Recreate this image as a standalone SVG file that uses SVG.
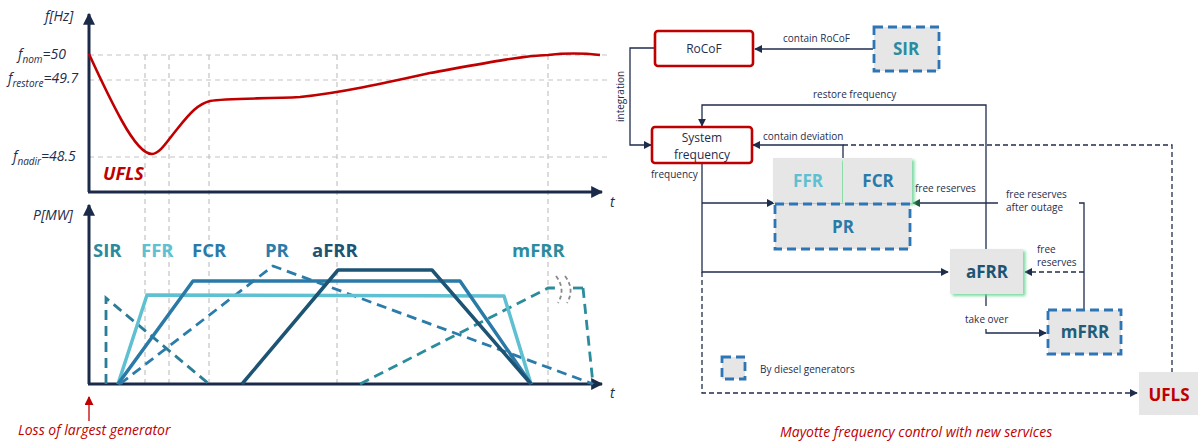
<svg xmlns="http://www.w3.org/2000/svg" width="1198" height="441" viewBox="0 0 1198 441">
  <style>
    text { font-family: "Open Sans", "Liberation Sans", sans-serif; }
    .axis { stroke: #1c2a4a; stroke-width: 3; fill: none; }
    .grid { stroke: #c4c4c4; stroke-width: 1.2; stroke-dasharray: 5 4; fill: none; }
    .ax-lbl { font-style: italic; font-size: 14px; fill: #1f2d4d; }
    .ser { font-weight: bold; font-size: 18.5px; }
    .s-solid { fill: none; stroke-width: 3.5; stroke-linejoin: round; }
    .s-dash { fill: none; stroke-width: 2.8; stroke-dasharray: 10 6; }
    .cap { font-style: italic; font-size: 14px; fill: #c00000; }
    .conn { stroke: #1f2d4d; stroke-width: 1.3; fill: none; }
    .conn-dash { stroke: #1f2d4d; stroke-width: 1.3; fill: none; stroke-dasharray: 5 3; }
    .lbl { font-size: 10px; fill: #1f2d4d; }
    .redbox { fill: #ffffff; stroke: #c00000; stroke-width: 2.6; }
    .greybox { fill: #e6e6e6; }
    .diesel { fill: #e6e6e6; stroke: #2e75b6; stroke-width: 2.8; stroke-dasharray: 9 5; }
    .node-txt { font-size: 12px; fill: #1f2d4d; text-anchor: middle; }
    .node-b { font-weight: bold; font-size: 17px; text-anchor: middle; }
  </style>
  <defs>
    <marker id="axhead" viewBox="0 0 10 10" refX="9" refY="5" markerWidth="12" markerHeight="12" markerUnits="userSpaceOnUse" orient="auto">
      <path d="M0,0 L10,5 L0,10 z" fill="#1c2a4a"/>
    </marker>
    <marker id="redhead" viewBox="0 0 10 10" refX="9" refY="5" markerWidth="9" markerHeight="9" markerUnits="userSpaceOnUse" orient="auto">
      <path d="M0,0 L10,5 L0,10 z" fill="#c00000"/>
    </marker>
    <marker id="ah" viewBox="0 0 10 10" refX="9" refY="5" markerWidth="8" markerHeight="8" markerUnits="userSpaceOnUse" orient="auto">
      <path d="M0,0 L10,5 L0,10 z" fill="#1f2d4d"/>
    </marker>
    <marker id="ahg" viewBox="0 0 10 10" refX="9" refY="5" markerWidth="8" markerHeight="8" markerUnits="userSpaceOnUse" orient="auto">
      <path d="M0,0 L10,5 L0,10 z" fill="#1d5a3c"/>
    </marker>
    <filter id="glow" x="-20%" y="-20%" width="150%" height="150%">
      <feDropShadow dx="2.5" dy="2" stdDeviation="1.6" flood-color="#6fd69a" flood-opacity="0.9"/>
    </filter>
  </defs>

  <!-- ===== Frequency chart ===== -->
  <g id="freq-chart">
    <path class="grid" d="M89,55 H607 M89,80 H607 M89,157 H607"/>
    <path class="grid" d="M145,55 V384 M169,55 V384 M209,55 V384 M337,55 V384 M548,55 V384"/>
    <path class="axis" d="M89,192 V14" marker-end="url(#axhead)"/>
    <path class="axis" d="M88,192 H602" marker-end="url(#axhead)"/>
    <text class="ax-lbl" x="45" y="21">f[Hz]</text>
    <text class="ax-lbl" x="610" y="207">t</text>
    <text class="ax-lbl" x="18" y="59">f<tspan font-size="10" dy="4">nom</tspan><tspan dy="-4">=50</tspan></text>
    <text class="ax-lbl" x="8" y="83">f<tspan font-size="10" dy="4">restore</tspan><tspan dy="-4">=49.7</tspan></text>
    <text class="ax-lbl" x="13" y="161">f<tspan font-size="10" dy="4">nadir</tspan><tspan dy="-4">=48.5</tspan></text>
    <path d="M89,54 C100,78 112,103 122,121 C132,139 143,154 152,154 C160,154 168,140 178,128 C190,113 198,104 210,101 C225,98 265,99 300,97 C340,93 385,83 430,73 C480,64 520,56 548,55 C565,53 582,53 600,55" fill="none" stroke="#c00000" stroke-width="2.6"/>
    <text x="103" y="180" font-weight="bold" font-style="italic" font-size="18" fill="#c00000">UFLS</text>
  </g>

  <!-- ===== Power chart ===== -->
  <g id="power-chart">
    <path class="axis" d="M89,384 V205" marker-end="url(#axhead)"/>
    <path class="axis" d="M88,384 H602" marker-end="url(#axhead)"/>
    <text class="ax-lbl" x="33" y="220">P[MW]</text>
    <text class="ax-lbl" x="610" y="398">t</text>

    <!-- service curves -->
    <path class="s-dash" stroke="#2a7d96" d="M106,384 L106,298 L209,384"/>
    <path class="s-dash" stroke="#2b7cab" d="M120,384 L273,266 L593,384"/>
    <path class="s-dash" stroke="#2a8c9c" d="M360,384 L548,288 L555,288"/>
    <path class="s-dash" stroke="#2a8c9c" stroke-dasharray="none" d="M573,288 L583,288"/>
    <path class="s-dash" stroke="#2a8c9c" d="M583,288 L593,384"/>
    <path d="M556,276 Q566,289 558,303 M565,276 Q575,289 567,303" fill="none" stroke="#8a8a8a" stroke-width="1.8" stroke-dasharray="4 3"/>
    <path class="s-solid" stroke="#5ec0d0" d="M118,384 L147,295 L504,296 L531,384"/>
    <path class="s-solid" stroke="#2a7aa8" d="M118,384 L193,281 L460,281 L531,384"/>
    <path class="s-solid" stroke="#1d5373" d="M242,384 L338,270 L432,270 L531,384"/>

    <text class="ser" x="93" y="257" fill="#2b8a9e">SIR</text>
    <text class="ser" x="141" y="257" fill="#5ec0d0">FFR</text>
    <text class="ser" x="192" y="257" fill="#2a7aa8">FCR</text>
    <text class="ser" x="265" y="257" fill="#2b7cab">PR</text>
    <text class="ser" x="312" y="257" fill="#1d5373">aFRR</text>
    <text class="ser" x="512" y="257" fill="#2a8c9c">mFRR</text>

    <path d="M89,421 V397" stroke="#c00000" stroke-width="1.3" marker-end="url(#redhead)"/>
    <text class="cap" x="18" y="435">Loss of largest generator</text>
  </g>

  <!-- ===== Control scheme: connectors ===== -->
  <g id="connectors">
    <path class="conn" d="M873,49 L755,49" marker-end="url(#ah)"/>
    <path class="conn" d="M655,48 L630,48 L630,145 L651,145" marker-end="url(#ah)"/>
    <path class="conn" d="M986,249 L986,105 L702,105 L702,126" marker-end="url(#ah)"/>
    <path class="conn" d="M843,158 L843,145 L753,145" marker-end="url(#ah)"/>
    <path class="conn-dash" d="M843,145 L1172,145 L1172,372"/>
    <path class="conn" d="M702,164 L702,272 L948,272" marker-end="url(#ah)"/>
    <path class="conn" d="M702,203 L774,203" marker-end="url(#ah)"/>
    <path class="conn-dash" d="M702,272 L702,393 L1137,393" marker-end="url(#ah)"/>
    <path class="conn" d="M1084,309 L1084,203 L1079,203"/>
    <path class="conn" d="M998,203 L913,203" marker-end="url(#ahg)"/>
    <path class="conn-dash" d="M1084,272 L1025,272" marker-end="url(#ah)"/>
    <path class="conn" d="M986,294 L986,306"/>
    <path class="conn" d="M986,329 L986,333 L1046,333" marker-end="url(#ah)"/>

    <text class="lbl" x="783" y="42">contain RoCoF</text>
    <text class="lbl" transform="translate(624,122) rotate(-90)">integration</text>
    <text class="lbl" x="813" y="98">restore frequency</text>
    <text class="lbl" x="763" y="140">contain deviation</text>
    <text class="lbl" x="651" y="178">frequency</text>
    <text class="lbl" x="915" y="192">free reserves</text>
    <text class="lbl" x="1006" y="198">free reserves</text>
    <text class="lbl" x="1006" y="211">after outage</text>
    <text class="lbl" x="1037" y="253">free</text>
    <text class="lbl" x="1037" y="266">reserves</text>
    <text class="lbl" x="965" y="323">take over</text>
  </g>

  <!-- ===== Control scheme: nodes ===== -->
  <g id="node-rocof">
    <rect class="redbox" x="655" y="31" width="98" height="35" rx="3"/>
    <text class="node-txt" x="704" y="53">RoCoF</text>
  </g>
  <g id="node-sir">
    <rect class="diesel" x="874" y="27" width="65" height="44"/>
    <text class="node-b" x="906" y="55" fill="#2a8ca0">SIR</text>
  </g>
  <g id="node-sysfreq">
    <rect class="redbox" x="652" y="127" width="100" height="36" rx="3"/>
    <text class="node-txt" x="702" y="142">System</text>
    <text class="node-txt" x="702" y="159">frequency</text>
  </g>
  <g id="node-ffr">
    <rect class="greybox" x="773" y="158" width="69" height="45" filter="url(#glow)"/>
    <text class="node-b" x="808" y="187" fill="#5ec0d0">FFR</text>
  </g>
  <g id="node-fcr">
    <rect class="greybox" x="843" y="158" width="69" height="45" filter="url(#glow)"/>
    <text class="node-b" x="878" y="187" fill="#2a7aa8">FCR</text>
  </g>
  <g id="node-pr">
    <rect class="diesel" x="775" y="204" width="135" height="45"/>
    <text class="node-b" x="843" y="233" fill="#2a7aa8">PR</text>
  </g>
  <g id="node-afrr">
    <rect class="greybox" x="950" y="249" width="73" height="45" filter="url(#glow)"/>
    <text class="node-b" x="987" y="278" fill="#1d5373">aFRR</text>
  </g>
  <g id="node-mfrr">
    <rect class="diesel" x="1048" y="310" width="73" height="44"/>
    <text class="node-b" x="1085" y="338" fill="#215c7a">mFRR</text>
  </g>
  <g id="node-ufls">
    <rect class="greybox" x="1139" y="372" width="59" height="43"/>
    <text class="node-b" x="1169" y="401" fill="#c00000">UFLS</text>
  </g>

  <!-- legend -->
  <g id="legend">
    <rect class="diesel" x="722" y="357" width="23" height="22" stroke-dasharray="8 4"/>
    <text class="lbl" x="760" y="373" font-size="10.5">By diesel generators</text>
  </g>

  <text class="cap" x="780" y="437">Mayotte frequency control with new services</text>
</svg>
